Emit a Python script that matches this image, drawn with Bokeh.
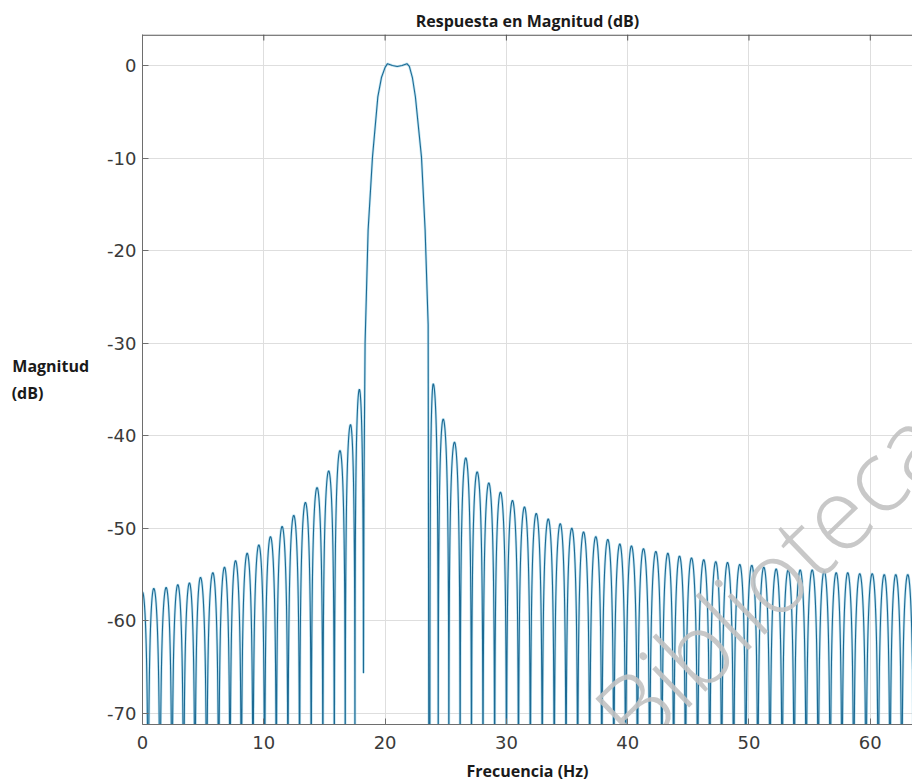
import numpy as np
from bokeh.plotting import figure
from bokeh.models import Range1d, Span, FixedTicker
from bokeh.embed import file_html
from bokeh.resources import INLINE
from bokeh.core.properties import value

# ---------------- data ----------------
# side-lobe peaks below the pass band (frequency in Hz, level in dB)
left_peak_hz = [0.0, 0.93, 1.95, 2.91, 3.87, 4.78, 5.80, 6.76, 7.67, 8.63,
                9.59, 10.55, 11.51, 12.47, 13.43, 14.39, 15.35, 16.28, 17.15, 17.88]
left_peak_db = [-56.9, -56.5, -56.4, -56.1, -55.9, -55.3, -54.8, -54.2, -53.5, -52.7,
                -51.8, -50.9, -49.8, -48.6, -47.2, -45.6, -43.8, -41.6, -38.8, -35.0]

# main lobe / pass band
main_hz = [18.22, 18.26, 18.35, 18.60, 18.96, 19.40, 19.70, 20.00, 20.20, 20.60,
           21.00, 21.40, 21.80, 22.00, 22.25, 22.50, 23.00, 23.30, 23.55, 23.69]
main_db = [-65.6, -45.0, -30.0, -17.8, -9.9, -3.4, -1.3, -0.2, 0.2, 0.0,
           -0.1, 0.0, 0.2, -0.1, -1.3, -3.4, -9.9, -17.8, -28.0, -150.0]

# side-lobe peaks above the pass band
right_peak_hz = [23.97, 24.79, 25.72, 26.65, 27.59, 28.55, 29.51, 30.50, 31.49, 32.46,
                 33.45, 34.44, 35.39, 36.36, 37.37, 38.36, 39.35, 40.31, 41.30, 42.32,
                 43.31, 44.27, 45.26, 46.27, 47.26, 48.23, 49.24, 50.23, 51.22, 52.24,
                 53.23, 54.22, 55.21, 56.20, 57.19, 58.14, 59.13, 60.16, 61.15, 62.10,
                 63.09, 64.07]
right_peak_db = [-34.4, -38.2, -40.7, -42.4, -43.9, -45.1, -46.1, -47.0, -47.7, -48.4,
                 -49.0, -49.5, -50.0, -50.4, -50.9, -51.2, -51.7, -51.9, -52.2, -52.5,
                 -52.7, -53.0, -53.2, -53.4, -53.6, -53.7, -53.9, -54.0, -54.2, -54.4,
                 -54.5, -54.5, -54.5, -54.6, -54.8, -54.8, -54.9, -54.9, -55.0, -55.0,
                 -55.0, -55.0]

x_ticks = [0, 10, 20, 30, 40, 50, 60]
y_ticks = [-70, -60, -50, -40, -30, -20, -10, 0]
y_tick_labels = ["-70", "-60", "-50", "-40", "-30", "-20", "-10", "0"]

# ---------------- drawing helpers (shape of each side lobe) ----------------
def lobe(a, p, b, level, floor_right=None, n=40):
    s = np.linspace(0.0, 1.0, n)
    u = 0.5 * s ** 2
    xl = a + (p - a) * (u / 0.5)
    ur = u[::-1]
    xr = b - (b - p) * (ur / 0.5)
    x = np.concatenate([xl, xr[1:]])
    uu = np.concatenate([u, ur[1:]])
    with np.errstate(divide="ignore"):
        y = level + 20 * np.log10(np.sin(np.pi * uu))
    y = np.where(np.isfinite(y), y, -150.0)
    if floor_right is not None:
        half = len(u)
        y[half - 1:] = np.maximum(y[half - 1:], floor_right)
    return x, y

xs, ys = [], []
nl = len(left_peak_hz)
for i in range(nl):
    p_ = left_peak_hz[i]
    a = (left_peak_hz[i - 1] + p_) / 2 if i > 0 else p_ - (left_peak_hz[1] - p_) / 2
    b = (p_ + left_peak_hz[i + 1]) / 2 if i < nl - 1 else main_hz[0]
    fl = main_db[0] if i == nl - 1 else None
    x, y = lobe(a, p_, b, left_peak_db[i], fl)
    xs.append(x); ys.append(y)
xs.append(np.array(main_hz)); ys.append(np.array(main_db))
nr = len(right_peak_hz)
for i in range(nr):
    p_ = right_peak_hz[i]
    a = (right_peak_hz[i - 1] + p_) / 2 if i > 0 else main_hz[-1]
    b = (p_ + right_peak_hz[i + 1]) / 2 if i < nr - 1 else p_ + (p_ - right_peak_hz[i - 1]) / 2
    x, y = lobe(a, p_, b, right_peak_db[i])
    xs.append(x); ys.append(y)
X = np.concatenate(xs)
Y = np.concatenate(ys)

# ---------------- figure ----------------
Y0, Y1 = -71.2, 3.35
p = figure(width=912, height=784,
           x_range=Range1d(0, 63.48), y_range=Range1d(Y0, Y1),
           output_backend="svg", toolbar_location=None,
           min_border_left=142, min_border_right=0,
           min_border_top=34, min_border_bottom=60)
p.outline_line_color = None
p.background_fill_color = "white"
p.border_fill_color = "white"

p.title.text = "Respuesta en Magnitud (dB)"
p.title.align = "center"
p.title.offset = -10
p.title.standoff = 6
p.title.text_font = "Open Sans"
p.title.text_font_size = "16px"
p.title.text_font_style = "bold"
p.title.text_color = "#1a1a1a"

axis_col = "#6e6e6e"
for ax in (p.xaxis[0], p.yaxis[0]):
    ax.axis_line_color = axis_col
    ax.major_tick_line_color = axis_col
    ax.major_tick_in = 6
    ax.major_tick_out = 0
    ax.minor_tick_line_color = None
    ax.major_label_text_font = "DejaVu Sans"
    ax.major_label_text_font_size = "18px"
    ax.major_label_text_color = "#3a3a3a"

p.xaxis.ticker = FixedTicker(ticks=x_ticks)
p.yaxis.ticker = FixedTicker(ticks=y_ticks)
p.yaxis.major_label_overrides = {t: s for t, s in zip(y_ticks, y_tick_labels)}
p.xaxis.major_label_standoff = 11
p.yaxis.major_label_standoff = 6
p.xaxis.axis_label = "Frecuencia (Hz)"
p.xaxis.axis_label_text_font = "Open Sans"
p.xaxis.axis_label_text_font_size = "16px"
p.xaxis.axis_label_text_font_style = "bold"
p.xaxis.axis_label_text_color = "#1a1a1a"
p.xaxis.axis_label_standoff = 8

NB = "\u00a0"
p.yaxis.axis_label = "Magnitud\n(dB)" + NB * 11
p.yaxis.axis_label_orientation = "horizontal"
p.yaxis.axis_label_text_font = "Open Sans"
p.yaxis.axis_label_text_font_size = "16px"
p.yaxis.axis_label_text_font_style = "bold"
p.yaxis.axis_label_text_color = "#1a1a1a"
p.yaxis.axis_label_standoff = 15

p.xgrid.ticker = FixedTicker(ticks=x_ticks)
p.ygrid.ticker = FixedTicker(ticks=y_ticks)
p.grid.grid_line_color = "#dedede"
p.grid.grid_line_width = 1

# top edge of the axes box with its inward ticks
p.add_layout(Span(location=Y1 - 0.06, dimension="width", line_color="#555555", line_width=1.3))
p.segment(x0=x_ticks, y0=[Y1] * len(x_ticks), x1=x_ticks, y1=[Y1 - 0.65] * len(x_ticks),
          line_color="#555555", line_width=1)

# response curve (light halo + dark line)
p.line(X, Y, line_color="#8fd0e8", line_width=2.6, line_alpha=0.55)
p.line(X, Y, line_color="#1c6a94", line_width=1.1)

# watermark
p.text(x=[52.14], y=[-54.54], text=["Biblioteca"], angle=0.768,
       text_font=value("Open Sans"), text_font_style="normal",
       text_font_size="100px", text_color="#c2c2c2", text_alpha=0.9,
       text_align="center", text_baseline="alphabetic")

open("out.html", "w").write(file_html(p, INLINE))
